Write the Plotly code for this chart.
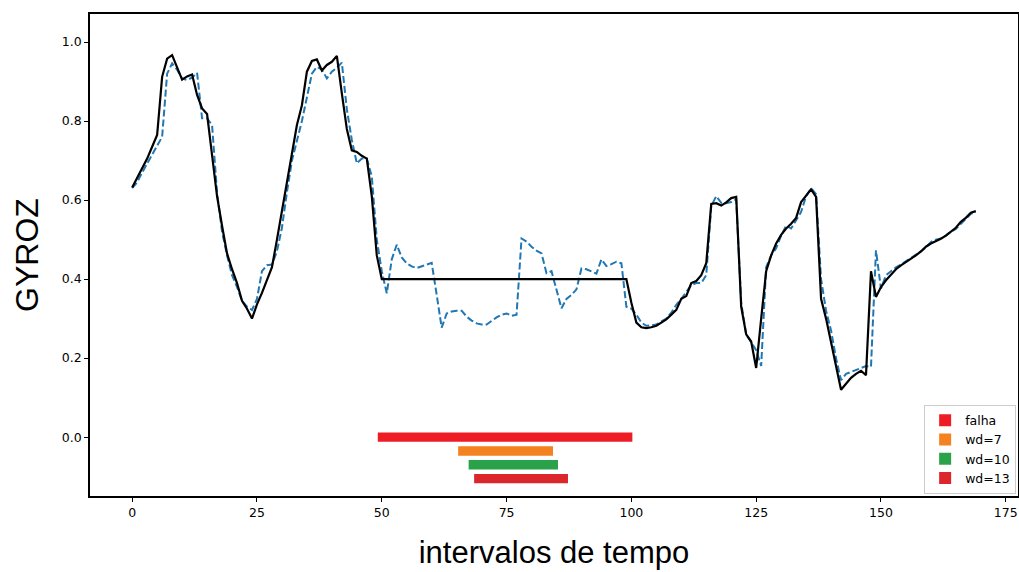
import plotly.graph_objects as go

# ---------------- data ----------------
real = [
    0.632, 0.655, 0.68, 0.705, 0.735, 0.765, 0.912, 0.958, 0.967, 0.935,
    0.905, 0.913, 0.918, 0.866, 0.832, 0.818, 0.72, 0.61, 0.535, 0.465,
    0.425, 0.39, 0.345, 0.325, 0.30, 0.336, 0.365, 0.40, 0.43, 0.50,
    0.57, 0.65, 0.72, 0.79, 0.84, 0.925, 0.952, 0.956, 0.928, 0.942,
    0.95, 0.965, 0.87, 0.78, 0.726, 0.722, 0.712, 0.705, 0.61, 0.46,
    0.40, 0.40, 0.40, 0.40, 0.40, 0.40, 0.40, 0.40, 0.40, 0.40,
    0.40, 0.40, 0.40, 0.40, 0.40, 0.40, 0.40, 0.40, 0.40, 0.40,
    0.40, 0.40, 0.40, 0.40, 0.40, 0.40, 0.40, 0.40, 0.40, 0.40,
    0.40, 0.40, 0.40, 0.40, 0.40, 0.40, 0.40, 0.40, 0.40, 0.40,
    0.40, 0.40, 0.40, 0.40, 0.40, 0.40, 0.40, 0.40, 0.40, 0.40,
    0.34, 0.29, 0.278, 0.276, 0.278, 0.282, 0.29, 0.298, 0.31, 0.322,
    0.35, 0.357, 0.39, 0.395, 0.41, 0.44, 0.59, 0.592, 0.586, 0.594,
    0.605, 0.608, 0.33, 0.26, 0.242, 0.175, 0.30, 0.42, 0.46, 0.49,
    0.512, 0.528, 0.54, 0.555, 0.595, 0.61, 0.627, 0.608, 0.35, 0.30,
    0.24, 0.18, 0.12, 0.135, 0.15, 0.16, 0.168, 0.157, 0.42, 0.355,
    0.38, 0.397, 0.41, 0.425, 0.435, 0.443, 0.452, 0.46, 0.47, 0.482,
    0.49, 0.495, 0.502, 0.51, 0.52, 0.53, 0.545, 0.555, 0.568, 0.572,
]

predicted = [
    0.63, 0.645, 0.67, 0.693, 0.715, 0.74, 0.76, 0.92, 0.946, 0.93,
    0.908, 0.904, 0.91, 0.922, 0.807, 0.807, 0.79, 0.62, 0.52, 0.46,
    0.41, 0.38, 0.345, 0.33, 0.322, 0.35, 0.42, 0.435, 0.437, 0.47,
    0.53, 0.62, 0.70, 0.75, 0.80, 0.86, 0.92, 0.937, 0.93, 0.908,
    0.925, 0.935, 0.948, 0.83, 0.752, 0.693, 0.705, 0.705, 0.66, 0.50,
    0.42, 0.364, 0.45, 0.487, 0.455, 0.44, 0.432, 0.428, 0.432, 0.437,
    0.441, 0.36, 0.277, 0.313, 0.318, 0.32, 0.32, 0.305, 0.295, 0.288,
    0.285, 0.285, 0.295, 0.303, 0.31, 0.313, 0.307, 0.31, 0.503, 0.495,
    0.482, 0.472, 0.465, 0.415, 0.42, 0.37, 0.326, 0.35, 0.36, 0.374,
    0.427, 0.425, 0.42, 0.414, 0.45, 0.433, 0.438, 0.444, 0.44, 0.33,
    0.325, 0.31, 0.29, 0.282, 0.283, 0.285, 0.293, 0.30, 0.315, 0.335,
    0.35, 0.368, 0.385, 0.39, 0.39, 0.41, 0.585, 0.61, 0.593, 0.592,
    0.595, 0.602, 0.34, 0.26, 0.24, 0.22, 0.18, 0.43, 0.46, 0.478,
    0.51, 0.535, 0.528, 0.55, 0.57, 0.61, 0.63, 0.615, 0.40, 0.32,
    0.27, 0.20, 0.144, 0.16, 0.165, 0.171, 0.176, 0.18, 0.178, 0.473,
    0.376, 0.41, 0.42, 0.43, 0.437, 0.445, 0.452, 0.46, 0.47, 0.48,
    0.494, 0.50, 0.503, 0.51, 0.52, 0.527, 0.54, 0.553, 0.565, 0.57,
]

time_index = list(range(len(real)))

interval_names = ["falha", "wd=7", "wd=10", "wd=13"]
interval_start = [49.2, 65.3, 67.4, 68.5]
interval_end = [100.2, 84.3, 85.3, 87.3]

x_ticks = [0, 25, 50, 75, 100, 125, 150, 175]
y_ticks = [0.0, 0.2, 0.4, 0.6, 0.8, 1.0]

# ---------------- styles ----------------
interval_levels = [0.0, -0.035, -0.07, -0.105]
interval_colors = ["#ee1d25", "#f58220", "#2aa24a", "#db262b"]

fig = go.Figure()

fig.add_trace(go.Scatter(
    x=time_index, y=predicted, mode="lines",
    line=dict(color="#1f77b4", width=2, dash="7px,3px"),
    showlegend=False, hoverinfo="skip",
))
fig.add_trace(go.Scatter(
    x=time_index, y=real, mode="lines",
    line=dict(color="black", width=2.2),
    showlegend=False, hoverinfo="skip",
))

for name, s, e, lvl, col in zip(interval_names, interval_start, interval_end,
                                 interval_levels, interval_colors):
    fig.add_trace(go.Bar(
        y=[lvl], x=[e - s], base=[s], orientation="h", width=0.024,
        marker=dict(color=col, line=dict(width=0)), name=name,
    ))

axis_common = dict(
    showline=True, linecolor="black", linewidth=1.5, mirror=True,
    ticks="outside", ticklen=4, tickwidth=1, tickcolor="black",
    showgrid=False, zeroline=False, automargin=False,
    tickfont=dict(family="DejaVu Sans", size=12.5, color="black"),
)

fig.update_layout(
    width=1019, height=572,
    margin=dict(l=90, r=1, t=14, b=76),
    paper_bgcolor="white", plot_bgcolor="white",
    barmode="overlay",
    xaxis=dict(range=[-8.45, 177.45], tickvals=x_ticks,
               title=dict(text="intervalos de tempo", standoff=23,
                          font=dict(family="Liberation Sans", size=31, color="black")),
               **axis_common),
    yaxis=dict(range=[-0.149, 1.071], tickvals=y_ticks, tickformat=".1f",
               title=dict(text="GYROZ", standoff=14,
                          font=dict(family="Liberation Sans", size=32, color="black")),
               **axis_common),
    legend=dict(x=0.998, y=0.005, xanchor="right", yanchor="bottom",
                bgcolor="white", bordercolor="#cccccc", borderwidth=1,
                font=dict(family="DejaVu Sans", size=12.5, color="black"),
                itemwidth=30, tracegroupgap=0),
)

fig.write_html(
    "out.html",
    config={"displayModeBar": False},
    post_script="document.body.style.margin='0';document.body.style.overflow='hidden';",
)
